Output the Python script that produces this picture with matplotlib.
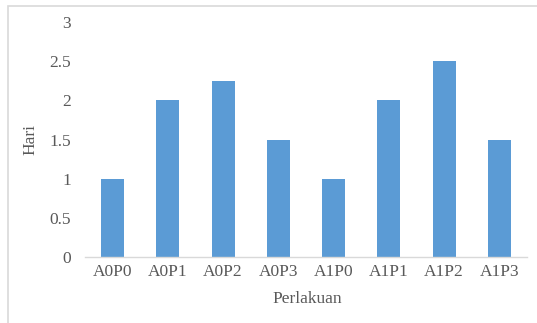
import matplotlib
matplotlib.use("Agg")
import matplotlib.pyplot as plt
from matplotlib.patches import Rectangle

perlakuan = ["A0P0", "A0P1", "A0P2", "A0P3", "A1P0", "A1P1", "A1P2", "A1P3"]
hari = [1, 2, 2.25, 1.5, 1, 2, 2.5, 1.5]
yticks = [0, 0.5, 1, 1.5, 2, 2.5, 3]
ytick_labels = ["0", "0.5", "1", "1.5", "2", "2.5", "3"]

plt.rcParams["font.family"] = ["Liberation Serif", "DejaVu Serif"]

W, H = 537, 323
fig = plt.figure(figsize=(W / 100, H / 100), dpi=100)
ax = fig.add_axes([85 / W, (H - 257) / H, (527 - 85) / W, (257 - 22) / H])

ax.bar(range(len(perlakuan)), hari, width=0.42, color="#5b9bd5")
ax.set_xlim(-0.5, len(perlakuan) - 0.5)
ax.set_ylim(0, 3)
ax.set_yticks(yticks)
ax.set_yticklabels(ytick_labels)
ax.set_xticks(range(len(perlakuan)))
ax.set_xticklabels(perlakuan)

for s in ["top", "right", "left"]:
    ax.spines[s].set_visible(False)
ax.spines["bottom"].set_color("#d9d9d9")
ax.spines["bottom"].set_linewidth(1)
ax.tick_params(axis="both", length=0, labelsize=12.5, colors="#595959")
ax.tick_params(axis="y", pad=10)
ax.tick_params(axis="x", pad=5)

ax.set_ylabel("Hari", fontsize=12.5, color="#595959")
ax.set_xlabel("Perlakuan", fontsize=12.5, color="#595959")
ax.yaxis.set_label_coords(-0.106, 0.5)
ax.xaxis.set_label_coords(0.502, -0.145)

# outer chart frame (only top and left edges fall inside the image)
fig.patches.append(Rectangle((8 / W, -0.1), 1.2, (H - 6) / H + 0.1,
                             transform=fig.transFigure, fill=False,
                             edgecolor="#d9d9d9", linewidth=1.2))

fig.savefig("out.png", dpi=100, facecolor="white")
